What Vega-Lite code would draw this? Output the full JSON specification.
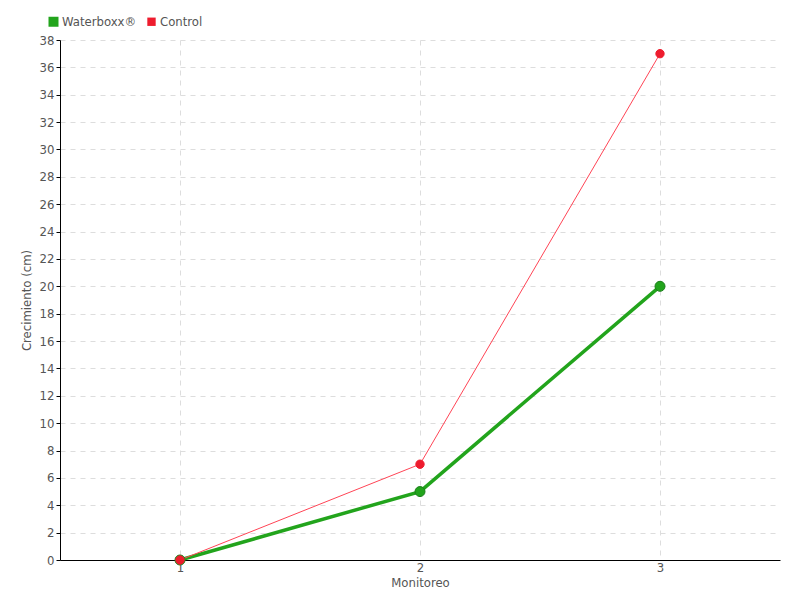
{
  "$schema": "https://vega.github.io/schema/vega-lite/v6.json",
  "width": 720,
  "height": 520,
  "autosize": {"type": "none"},
  "padding": {"left": 60, "top": 40, "right": 20, "bottom": 40},
  "background": "white",
  "config": {
    "font": "DejaVu Sans Condensed, Roboto, sans-serif",
    "view": {"stroke": null},
    "axis": {
      "labelFont": "DejaVu Sans Condensed, Roboto, sans-serif",
      "titleFont": "DejaVu Sans Condensed, Roboto, sans-serif",
      "labelColor": "#555555",
      "titleColor": "#555555",
      "labelFontSize": 13,
      "titleFontSize": 13,
      "titleFontWeight": "normal",
      "domainColor": "#000000",
      "domainWidth": 1,
      "gridColor": "#dddddd",
      "gridDash": [5, 5],
      "gridWidth": 1
    },
    "legend": {
      "labelFont": "DejaVu Sans Condensed, Roboto, sans-serif",
      "labelFontSize": 13,
      "labelColor": "#555555"
    }
  },
  "data": {
    "values": [
      {"serie": "Waterboxx®", "monitoreo": "1", "crecimiento": 0},
      {"serie": "Waterboxx®", "monitoreo": "2", "crecimiento": 5},
      {"serie": "Waterboxx®", "monitoreo": "3", "crecimiento": 20},
      {"serie": "Control", "monitoreo": "1", "crecimiento": 0},
      {"serie": "Control", "monitoreo": "2", "crecimiento": 7},
      {"serie": "Control", "monitoreo": "3", "crecimiento": 37}
    ]
  },
  "encoding": {
    "x": {
      "field": "monitoreo",
      "type": "ordinal",
      "scale": {"type": "point", "padding": 0.5},
      "axis": {
        "title": "Monitoreo",
        "labelAngle": 0,
        "ticks": false,
        "labelPadding": 1,
        "titlePadding": 2,
        "grid": true,
        "domain": true
      }
    },
    "y": {
      "field": "crecimiento",
      "type": "quantitative",
      "scale": {"domain": [0, 38], "nice": false},
      "axis": {
        "title": "Crecimiento (cm)",
        "values": [0,2,4,6,8,10,12,14,16,18,20,22,24,26,28,30,32,34,36,38],
        "tickSize": 4,
        "tickColor": "#000000",
        "labelPadding": 2,
        "titlePadding": 6,
        "grid": true
      }
    }
  },
  "layer": [
    {
      "mark": {"type": "line"},
      "encoding": {
        "stroke": {
          "field": "serie",
          "type": "nominal",
          "scale": {"domain": ["Waterboxx®", "Control"], "range": ["#22a41c", "#ff4455"]},
          "legend": null
        },
        "strokeWidth": {
          "field": "serie",
          "type": "nominal",
          "scale": {"domain": ["Waterboxx®", "Control"], "range": [3.5, 1]},
          "legend": null
        }
      }
    },
    {
      "mark": {"type": "point", "filled": true, "opacity": 1, "strokeWidth": 1},
      "encoding": {
        "color": {
          "field": "serie",
          "type": "nominal",
          "scale": {"domain": ["Waterboxx®", "Control"], "range": ["#22a41c", "#ee1c2e"]},
          "legend": {
            "title": null,
            "orient": "none",
            "direction": "horizontal",
            "legendX": -13,
            "legendY": -25,
            "symbolType": "square",
            "symbolSize": 30,
            "symbolOpacity": 1,
            "symbolStrokeWidth": 0,
            "labelOffset": 2,
            "columnPadding": 8
          }
        },
        "stroke": {
          "field": "serie",
          "type": "nominal",
          "scale": {"domain": ["Waterboxx®", "Control"], "range": ["#1a7f1a", "#ee1c2e"]},
          "legend": null
        },
        "size": {
          "field": "serie",
          "type": "nominal",
          "scale": {"domain": ["Waterboxx®", "Control"], "range": [100, 70]},
          "legend": null
        }
      }
    }
  ],
  "resolve": {"scale": {"stroke": "independent", "strokeWidth": "independent"}}
}
